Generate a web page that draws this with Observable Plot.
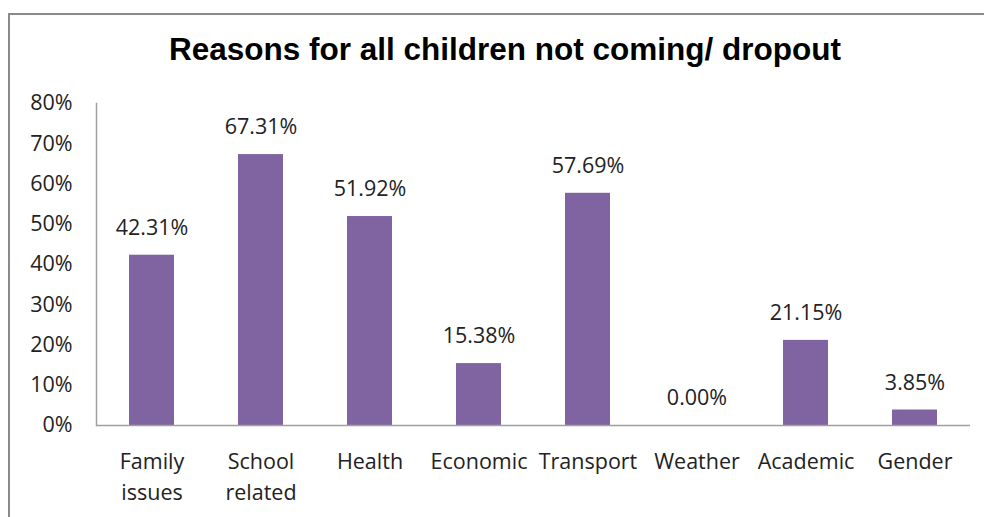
<!DOCTYPE html>
<html><head><meta charset="utf-8">
<script src="https://cdn.jsdelivr.net/npm/d3@7"></script>
<script src="https://cdn.jsdelivr.net/npm/@observablehq/plot@0.6"></script>
<style>
body{margin:0;background:#fff;}
#wrap{position:relative;width:984px;height:517px;overflow:hidden;font-family:"Open Sans",sans-serif;}
#frame{position:absolute;left:8px;top:13px;width:1000px;height:600px;border-left:2px solid #8a8a8a;border-top:2px solid #8a8a8a;}
#title{position:absolute;left:0;top:31px;width:1010px;text-align:center;font-family:"Liberation Sans",Arial,sans-serif;font-weight:bold;font-size:31.5px;color:#000;}
#chart{position:absolute;left:0;top:0;}
</style></head>
<body>
<div id="wrap"><div id="frame"></div><div id="chart"></div><div id="title">Reasons for all children not coming/ dropout</div></div>
<script>
const categories = ["Family\nissues","School\nrelated","Health","Economic","Transport","Weather","Academic","Gender"];
const values = [42.31, 67.31, 51.92, 15.38, 57.69, 0.00, 21.15, 3.85];
const yTicks = [0,10,20,30,40,50,60,70,80];
const data = categories.map((c,i)=>({c, v: values[i]}));
const chart = Plot.plot({
  width: 984, height: 517,
  marginLeft: 96, marginRight: 14, marginTop: 103, marginBottom: 92,
  style: {fontFamily: '"Open Sans", sans-serif', fontSize: "21.5px", color: "#222", background: "transparent"},
  x: {domain: categories, paddingInner: 0.59, paddingOuter: 0.295, label: null},
  y: {domain: [0,80], label: null},
  marks: [
    Plot.axisY({ticks: yTicks, tickSize: 0, tickPadding: 24, tickFormat: d => d + "%", fontSize: 21.5}),
    Plot.axisX({tickSize: 0, tickPadding: 22, lineHeight: 1.42, fontSize: 21.5}),
    Plot.barY(data, {x: "c", y: "v", fill: "#8064A2"}),
    Plot.ruleY([0], {stroke: "#a0a0a0", strokeWidth: 1.5}),
    Plot.frame({anchor: "left", stroke: "#a0a0a0", strokeWidth: 1.5}),
    Plot.text(data, {x: "c", y: "v", text: d => d.v.toFixed(2) + "%", dy: -27, fontSize: 21.5, fill: "#222"})
  ]
});
document.getElementById("chart").appendChild(chart);
</script>
</body></html>
